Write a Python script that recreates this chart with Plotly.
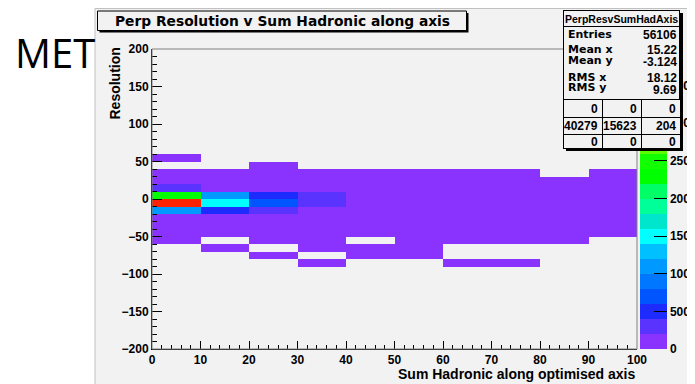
import plotly.graph_objects as go

# ---------------- data ----------------
x_centers = [5, 15, 25, 35, 45, 55, 65, 75, 85, 95]
y_centers = [-85, -75, -65, -55, -45, -35, -25, -15, -5, 5, 15, 25, 35, 45, 55]
N = None
counts = [
    [N, N, N, 2, N, N, 1, 1, N, N],            # -90..-80
    [N, N, 1, N, 2, 1, N, N, N, N],            # -80..-70
    [N, 3, N, 2, 1, 1, N, N, N, N],            # -70..-60
    [6, N, 4, 2, N, 1, 1, 1, 1, N],            # -60..-50
    [14, 9, 6, 4, 3, 2, 2, 1, 1, 1],           # -50..-40
    [38, 22, 12, 8, 5, 4, 3, 2, 2, 1],         # -40..-30
    [120, 64, 30, 18, 10, 6, 4, 3, 2, 2],      # -30..-20
    [1080, 480, 290, 96, 35, 16, 9, 5, 3, 3],  # -20..-10
    [3986, 1470, 690, 310, 128, 52, 24, 12, 7, 5],  # -10..0
    [2350, 1030, 440, 260, 110, 44, 20, 10, 6, 4],  # 0..10
    [240, 150, 88, 52, 26, 12, 7, 4, 3, 2],    # 10..20
    [70, 40, 22, 14, 8, 5, 3, 2, 1, 1],        # 20..30
    [16, 10, 7, 4, 3, 2, 2, 1, N, 1],          # 30..40
    [N, N, 1, N, N, N, N, N, N, N],            # 40..50
    [1, N, N, N, N, N, N, N, N, N],            # 50..60
]
x_ticks = [0, 10, 20, 30, 40, 50, 60, 70, 80, 90, 100]
y_ticks = [-200, -150, -100, -50, 0, 50, 100, 150, 200]
z_ticks = [0, 500, 1000, 1500, 2000, 2500, 3000, 3500]
palette = ["#8a33ff", "#5a33ff", "#1e2bff", "#0055ff", "#0077ff", "#0099ff",
           "#00c0ff", "#00ffff", "#00e6cc", "#00ff99", "#00ff66", "#00ff00",
           "#11ff00", "#5aff00", "#aaff00", "#eeff00", "#ffcc00", "#ff9900",
           "#ff5500", "#ff2200"]

title_text = "Perp Resolution v Sum Hadronic along axis"
x_title = "Sum Hadronic along optimised axis"
y_title = "Resolution"
stats_name = "PerpResvSumHadAxis"
stats_labels = ["Entries", "Mean x", "Mean y", "RMS x", "RMS y"]
stats_values = ["56106", "15.22", "-3.124", "18.12", "9.69"]
stats_grid = [["0", "0", "0"], ["40279", "15623", "204"], ["0", "0", "0"]]

# ---------------- layout helpers ----------------
# the page body has an 8px margin: the figure starts at page pixel (8, 8)
OFF = 8
W, H = 695 - OFF, 384 - OFF
def X(p):
    return (p - OFF) / W
def Y(p):
    return 1 - (p - OFF) / H

FONT = "Liberation Sans"
WIDE = "DejaVu Sans"
def bold(size, color="black", family=FONT):
    return dict(family=family, size=size, color=color, weight="bold")

zmax = max(v for row in counts for v in row if v is not None)
n = len(palette)
cscale = []
for k, c in enumerate(palette):
    cscale.append([k / n, c])
    cscale.append([(k + 1) / n, c])

fig = go.Figure()
fig.add_trace(go.Heatmap(
    x=x_centers, y=y_centers, z=counts,
    zmin=0, zmax=zmax, colorscale=cscale, hoverinfo="skip",
    colorbar=dict(
        x=X(640), xanchor="left", y=Y(349), yanchor="bottom",
        len=300, lenmode="pixels", thickness=27, thicknessmode="pixels",
        xpad=0, ypad=0, outlinewidth=0,
        tickvals=z_ticks, ticks="inside", ticklen=13, tickwidth=1,
        tickcolor="black", tickfont=bold(12),
    ),
))

shapes = [
    # canvas
    dict(type="rect", xref="paper", yref="paper", x0=X(95), x1=1.02, y0=Y(8.5), y1=-0.02,
         fillcolor="#f2f2f2", line=dict(color="#c0c0c0", width=1), layer="below"),
    # frame
    dict(type="rect", xref="paper", yref="paper", x0=X(152), x1=X(637), y0=Y(349), y1=Y(49),
         fillcolor="rgba(0,0,0,0)", line=dict(color="#808080", width=1), layer="above"),
    # title box shadow + box
    dict(type="rect", xref="paper", yref="paper", x0=X(99.5), x1=X(468.5), y0=Y(32.5), y1=Y(13),
         fillcolor="black", line=dict(width=0), layer="above"),
    dict(type="rect", xref="paper", yref="paper", x0=X(97.5), x1=X(466.5), y0=Y(30.5), y1=Y(11),
         fillcolor="#f2f2f2", line=dict(color="black", width=1), layer="above"),
]

def box(x0, y0, x1, y1, fill, bw=1):
    return dict(xref="paper", yref="paper", x=X(x0), y=Y(y0), xanchor="left", yanchor="top",
                text=" ", showarrow=False, width=(x1 - x0) - 2 * bw, height=(y1 - y0) - 2 * bw,
                bgcolor=fill, bordercolor="black", borderwidth=bw, borderpad=0,
                font=dict(size=1))

def txt(x, y, s, size, xanchor="center", angle=0, font=None):
    return dict(xref="paper", yref="paper", x=X(x), y=Y(y), xanchor=xanchor, yanchor="middle",
                text=s, showarrow=False, textangle=angle,
                font=font if font is not None else bold(size))

ann = []
ann.append(txt(13, 52, "MET", 40, xanchor="left",
               font=dict(family="Open Sans", size=40, color="black")))
ann.append(txt(282, 21, title_text, 13.8, font=bold(13.8, family=WIDE)))
ann.append(txt(114, 83.5, y_title, 14, angle=-90))
ann.append(txt(637, 374, x_title, 14, xanchor="right"))

# stats box
sx0, sx1, sy0, sy1 = 563, 680, 10, 148
ann.append(box(sx0 + 3, sy0 + 3, sx1 + 3, sy1 + 3, "black", bw=0))
ann.append(box(sx0, sy0, sx1, sy1, "#f2f2f2"))
ann.append(box(sx0, sy0, sx1, 27, "#f2f2f2"))
ann.append(txt((sx0 + sx1) / 2, 18.5, stats_name, 10.5))
label_y = [35, 50, 60, 77, 87]
value_y = [35, 50, 62, 78, 90]
for lab, val, ly, vy in zip(stats_labels, stats_values, label_y, value_y):
    ann.append(txt(566, ly, lab, 11, xanchor="left", font=bold(11, family=WIDE)))
    ann.append(txt(679, vy, val, 12, xanchor="right"))
grid_y = [99, 117, 134, 148]
grid_x = [563, 602, 641, 680]
for r in range(3):
    for c in range(3):
        ann.append(box(grid_x[c], grid_y[r], grid_x[c + 1] + 1, grid_y[r + 1] + 1, "#f2f2f2"))
        ann.append(txt(grid_x[c + 1] - 2, (grid_y[r] + grid_y[r + 1]) / 2 + 1,
                       stats_grid[r][c], 12, xanchor="right"))

fig.update_layout(
    width=W, height=H, margin=dict(l=0, r=0, t=0, b=0, pad=0, autoexpand=False),
    paper_bgcolor="white", plot_bgcolor="rgba(0,0,0,0)",
    shapes=shapes, annotations=ann, showlegend=False,
    xaxis=dict(domain=[X(152), X(637)], range=[0, 100], tickvals=x_ticks,
               ticks="inside", ticklen=8, tickwidth=1, tickcolor="black",
               minor=dict(dtick=2, ticks="inside", ticklen=4, tickcolor="black"),
               showgrid=False, zeroline=False, showline=True, linecolor="black",
               linewidth=1, tickfont=bold(12), fixedrange=True),
    yaxis=dict(domain=[Y(349), Y(49)], range=[-200, 200], tickvals=y_ticks,
               ticks="inside", ticklen=10, tickwidth=1, tickcolor="black",
               minor=dict(dtick=10, ticks="inside", ticklen=5, tickcolor="black"),
               showgrid=False, zeroline=False, showline=True, linecolor="black",
               linewidth=1, tickfont=bold(12), fixedrange=True),
)

fig.write_html("out.html")
